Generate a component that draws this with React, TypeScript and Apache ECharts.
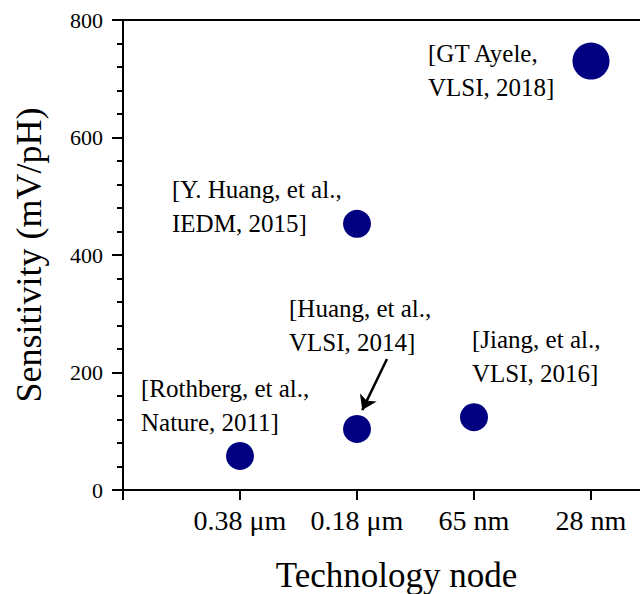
import React, { useEffect, useRef } from "react";
import * as echarts from "echarts";

const categories = ["0.38 μm", "0.18 μm", "65 nm", "28 nm"];
const pointX = [1, 2, 2, 3, 4];
const sensitivity = [58, 104, 453, 124, 730];
const pointSizes = [28, 28, 28, 28, 37];
const yTicks = [0, 200, 400, 600, 800];
const annotations = [
  { text: "[GT Ayele,\nVLSI, 2018]", x: 428, y: 36 },
  { text: "[Y. Huang, et al.,\nIEDM, 2015]", x: 172, y: 172 },
  { text: "[Huang, et al.,\nVLSI, 2014]", x: 289, y: 291 },
  { text: "[Rothberg, et al.,\nNature, 2011]", x: 141, y: 371 },
  { text: "[Jiang, et al.,\nVLSI, 2016]", x: 472, y: 322 },
];
const arrowFrom = [2.256, 223];
const arrowTo = [2.045, 136];

const FONT = "Liberation Serif";

export default function App() {
  const ref = useRef<HTMLDivElement>(null);
  useEffect(() => {
    const chart = echarts.init(ref.current!, null, { renderer: "svg" });
    const xMax = (670 - 123) / 117;
    chart.setOption({
      animation: false,
      backgroundColor: "#ffffff",
      textStyle: { fontFamily: FONT },
      grid: { left: 123, right: 0, top: 20, bottom: 104, outerBoundsMode: "none", containLabel: false },
      xAxis: [
        {
          type: "value",
          min: 0,
          max: xMax,
          interval: 1,
          name: "Technology node",
          nameLocation: "middle",
          nameGap: 68,
          nameTextStyle: { fontFamily: FONT, fontSize: 35, color: "#000" },
          axisLine: { show: true, lineStyle: { color: "#000", width: 2 } },
          axisTick: { show: true, inside: false, length: 10, lineStyle: { color: "#000", width: 2 } },
          axisLabel: {
            show: true,
            margin: 16,
            fontFamily: FONT,
            fontSize: 28,
            color: "#000",
            showMaxLabel: false,
            formatter: (v: number) => (v >= 1 && v <= categories.length && Number.isInteger(v) ? categories[v - 1] : ""),
          },
          splitLine: { show: false },
        },
        {
          type: "value",
          position: "top",
          min: 0,
          max: xMax,
          axisLine: { show: true, onZero: false, lineStyle: { color: "#000", width: 2 } },
          axisTick: { show: false },
          axisLabel: { show: false },
          splitLine: { show: false },
        },
      ],
      yAxis: {
        type: "value",
        min: yTicks[0],
        max: yTicks[yTicks.length - 1],
        interval: 200,
        name: "Sensitivity (mV/pH)",
        nameLocation: "middle",
        nameGap: 76,
        nameTextStyle: { fontFamily: FONT, fontSize: 36, color: "#000" },
        axisLine: { show: true, lineStyle: { color: "#000", width: 2 } },
        axisTick: { show: true, inside: false, length: 11, lineStyle: { color: "#000", width: 2 } },
        minorTick: { show: true, splitNumber: 5, length: 6, lineStyle: { color: "#000", width: 2 } },
        axisLabel: { margin: 20, fontFamily: FONT, fontSize: 22, color: "#000" },
        splitLine: { show: false },
      },
      series: [
        {
          type: "scatter",
          data: pointX.map((x, i) => ({ value: [x, sensitivity[i]], symbolSize: pointSizes[i] })),
          itemStyle: { color: "#000080", opacity: 1 },
          markLine: {
            silent: true,
            symbol: ["none", "arrow"],
            symbolSize: 14,
            label: { show: false },
            lineStyle: { color: "#000", width: 2.5, type: "solid" },
            itemStyle: { color: "#000" },
            data: [[{ coord: arrowFrom }, { coord: arrowTo }]],
          },
        },
      ],
      graphic: annotations.map((a) => ({
        type: "text",
        x: a.x,
        y: a.y,
        style: {
          text: a.text,
          font: `25px ${FONT}`,
          lineHeight: 34,
          fill: "#000",
          textVerticalAlign: "top",
        },
      })),
    });
    return () => chart.dispose();
  }, []);
  return (
    <div style={{ position: "absolute", left: 0, top: 0, width: 640, height: 594, overflow: "hidden", background: "#fff" }}>
      <div ref={ref} style={{ width: 670, height: 594 }} />
    </div>
  );
}
